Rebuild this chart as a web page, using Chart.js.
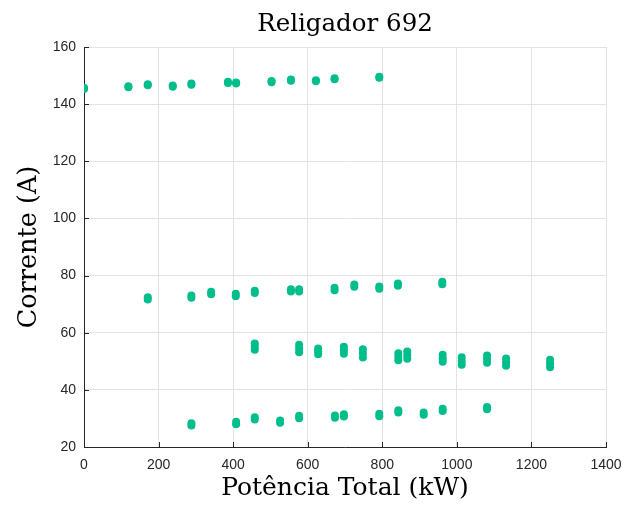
<!DOCTYPE html>
<html>
<head>
<meta charset="utf-8">
<script src="https://cdn.jsdelivr.net/npm/chart.js@4/dist/chart.umd.min.js"></script>
<style>
  html, body { margin: 0; padding: 0; background: #fff; }
  #wrap { width: 625px; height: 508px; position: relative; }
</style>
</head>
<body>
<div id="wrap"><canvas id="c" width="625" height="508"></canvas></div>
<script>
// ---- Data ----
const chartTitle = 'Religador 692';
const xAxisLabel = 'Potência Total (kW)';
const yAxisLabel = 'Corrente (A)';

const xTicks = [0, 200, 400, 600, 800, 1000, 1200, 1400];
const yTicks = [20, 40, 60, 80, 100, 120, 140, 160];

// Band around 145-150 A
const topKW = [0, 119, 171, 238, 288, 386, 408, 503, 555, 622, 672, 792];
const topA  = [[145.3, 145.7], [145.9, 146.3], [146.6, 147.0], [146.1, 146.5], [146.8, 147.2], [147.4, 147.8],
               [147.2, 147.6], [147.7, 148.1], [148.2, 148.6], [148.0, 148.4], [148.7, 149.1], [149.2, 149.6]];

// Band around 72-78 A
const upperKW = [171, 288, 341, 407, 458, 555, 577, 672, 725, 792, 842, 961];
const upperA  = [[71.6, 72.4], [72.2, 73.0], [73.5, 74.3], [72.8, 73.6], [73.9, 74.7], [74.4, 75.2],
                 [74.4, 75.2], [74.9, 75.7], [76.1, 76.9], [75.4, 76.2], [76.4, 77.2], [77.0, 77.8]];

// Band around 48-56 A
const lowerKW = [458, 577, 628, 697, 748, 843, 867, 962, 1013, 1081, 1132, 1250];
const lowerA  = [[54.0, 55.1, 56.2], [53.2, 54.5, 55.8], [52.5, 53.5, 54.5], [52.6, 53.9, 55.1],
                 [51.3, 52.8, 54.2], [50.4, 51.6, 52.8], [50.9, 52.1, 53.4], [49.8, 51.0, 52.3],
                 [48.8, 50.1, 51.4], [49.5, 50.8, 52.0], [48.4, 49.7, 51.0], [47.9, 49.2, 50.5]];

// Band around 28-34 A
const bottomKW = [288, 408, 458, 526, 577, 673, 697, 792, 843, 911, 962, 1081];
const bottomA  = [[27.5, 28.3], [28.0, 28.8], [29.6, 30.4], [28.5, 29.3], [30.1, 30.9], [30.2, 31.0],
                  [30.7, 31.5], [30.8, 31.6], [32.1, 32.9], [31.3, 32.1], [32.6, 33.4], [33.2, 34.0]];

// ---- Build points ----
function toPoints(kw, amps) {
  const pts = [];
  kw.forEach((x, i) => amps[i].forEach(y => pts.push({ x: x, y: y })));
  return pts;
}
const points = [].concat(
  toPoints(topKW, topA),
  toPoints(upperKW, upperA),
  toPoints(lowerKW, lowerA),
  toPoints(bottomKW, bottomA)
);

const markerColor = 'rgb(0,190,140)';
const axisColor = '#262626';
const gridColor = '#e3e3e3';
const serif = "'DejaVu Serif', 'Liberation Serif', serif";
const sans = "'Liberation Sans', Arial, sans-serif";

// inward tick marks (MATLAB style) and title centred over the plot area
const decorations = {
  id: 'decorations',
  afterDatasetsDraw(chart) {
    const ctx = chart.ctx;
    const xs = chart.scales.x, ys = chart.scales.y;
    const area = chart.chartArea;
    ctx.save();
    ctx.strokeStyle = axisColor;
    ctx.lineWidth = 1;
    ctx.beginPath();
    xTicks.forEach(v => {
      const px = Math.round(xs.getPixelForValue(v)) + 0.5;
      ctx.moveTo(px, area.bottom);
      ctx.lineTo(px, area.bottom - 5);
    });
    yTicks.forEach(v => {
      const py = Math.round(ys.getPixelForValue(v)) + 0.5;
      ctx.moveTo(area.left, py);
      ctx.lineTo(area.left + 5, py);
    });
    ctx.stroke();

    ctx.fillStyle = '#000';
    ctx.font = '24.5px ' + serif;
    ctx.textAlign = 'center';
    ctx.textBaseline = 'alphabetic';
    ctx.fillText(chartTitle, (area.left + area.right) / 2, 31);
    ctx.restore();
  }
};

new Chart(document.getElementById('c'), {
  type: 'scatter',
  data: {
    datasets: [{
      data: points,
      backgroundColor: markerColor,
      borderColor: markerColor,
      borderWidth: 0,
      pointRadius: 4,
      pointHoverRadius: 4
    }]
  },
  options: {
    responsive: false,
    animation: false,
    devicePixelRatio: 1,
    layout: { padding: { left: 0, right: 19, top: 47, bottom: 0 } },
    plugins: {
      legend: { display: false },
      tooltip: { enabled: false },
      title: { display: false }
    },
    scales: {
      x: {
        type: 'linear',
        min: 0, max: 1400,
        afterBuildTicks: s => { s.ticks = xTicks.map(v => ({ value: v })); },
        afterFit: s => { s.height = 61; s.paddingLeft = 0; s.paddingRight = 0; },
        grid: { color: gridColor, drawTicks: false, lineWidth: 1 },
        border: { display: true, color: axisColor, width: 1 },
        ticks: { color: axisColor, font: { family: sans, size: 14 }, padding: 10, maxRotation: 0,
                 callback: v => String(v) },
        title: {
          display: true, text: xAxisLabel, color: '#000',
          font: { family: serif, size: 25, weight: 'normal' },
          padding: { top: 0, bottom: 5 }
        }
      },
      y: {
        type: 'linear',
        min: 20, max: 160,
        afterBuildTicks: s => { s.ticks = yTicks.map(v => ({ value: v })); },
        afterFit: s => { s.width = 84; s.paddingTop = 0; s.paddingBottom = 0; },
        grid: { color: gridColor, drawTicks: false, lineWidth: 1 },
        border: { display: true, color: axisColor, width: 1 },
        ticks: { color: axisColor, font: { family: sans, size: 14 }, padding: 8,
                 callback: v => String(v) },
        title: {
          display: true, text: yAxisLabel, color: '#000',
          font: { family: serif, size: 25.5, weight: 'normal' },
          padding: { top: 14, bottom: 0 }
        }
      }
    }
  },
  plugins: [decorations]
});
</script>
</body>
</html>
